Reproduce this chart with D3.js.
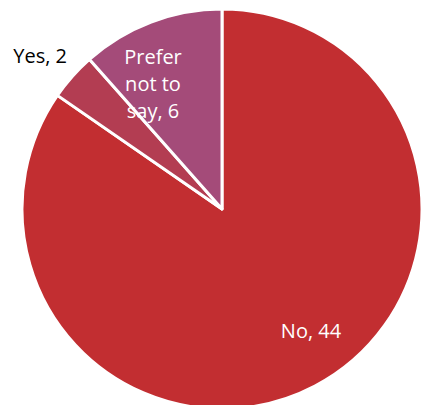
<!DOCTYPE html>
<html>
<head>
<meta charset="utf-8">
<script src="https://cdn.jsdelivr.net/npm/d3@7"></script>
<style>
  html, body { margin: 0; padding: 0; background: #fff; }
  svg { display: block; }
  text { font-family: "Open Sans", "Noto Sans", sans-serif; font-size: 20px; }
</style>
</head>
<body>
<svg id="chart" width="422" height="405"></svg>
<script>
// Survey answers, in drawing order clockwise from 12 o'clock
const categories = ["No", "Yes", "Prefer not to say"];
const values = [44, 2, 6];
const colors = ["#C22E31", "#B33D52", "#A44B79"];

const width = 422, height = 405;
const cx = 222, cy = 209, radius = 200;

const svg = d3.select("#chart");
const g = svg.append("g").attr("transform", `translate(${cx},${cy})`);

const data = categories.map((c, i) => ({ name: c, value: values[i], color: colors[i] }));

const pie = d3.pie().sort(null).value(d => d.value);
const arc = d3.arc().innerRadius(0).outerRadius(radius);
const arcs = pie(data);

g.selectAll("path.slice")
  .data(arcs)
  .join("path")
  .attr("class", "slice")
  .attr("d", arc)
  .attr("fill", d => d.data.color)
  .attr("stroke", "#fff")
  .attr("stroke-width", 3)
  .attr("stroke-linejoin", "round");

// No — inside, lower right
{
  const a = arcs[0];
  g.append("text")
    .attr("x", 89).attr("y", 124)
    .attr("text-anchor", "middle")
    .attr("dominant-baseline", "middle")
    .attr("fill", "#fff")
    .text(`${a.data.name}, ${a.data.value}`);
}

// Yes — outside the pie, upper left
{
  const a = arcs[1];
  g.append("text")
    .attr("x", -155).attr("y", -151)
    .attr("text-anchor", "end")
    .attr("dominant-baseline", "middle")
    .attr("fill", "#000")
    .text(`${a.data.name}, ${a.data.value}`);
}

// Prefer not to say — inside, wrapped over three lines
{
  const a = arcs[2];
  const x = -69, y = -123;
  const lines = ["Prefer", "not to", `say, ${a.data.value}`];
  const lh = 27;
  const t = g.append("text")
    .attr("text-anchor", "middle")
    .attr("fill", "#fff");
  lines.forEach((l, i) => {
    t.append("tspan")
      .attr("x", x)
      .attr("y", y + (i - 1) * lh)
      .attr("dominant-baseline", "middle")
      .text(l);
  });
}
</script>
</body>
</html>
